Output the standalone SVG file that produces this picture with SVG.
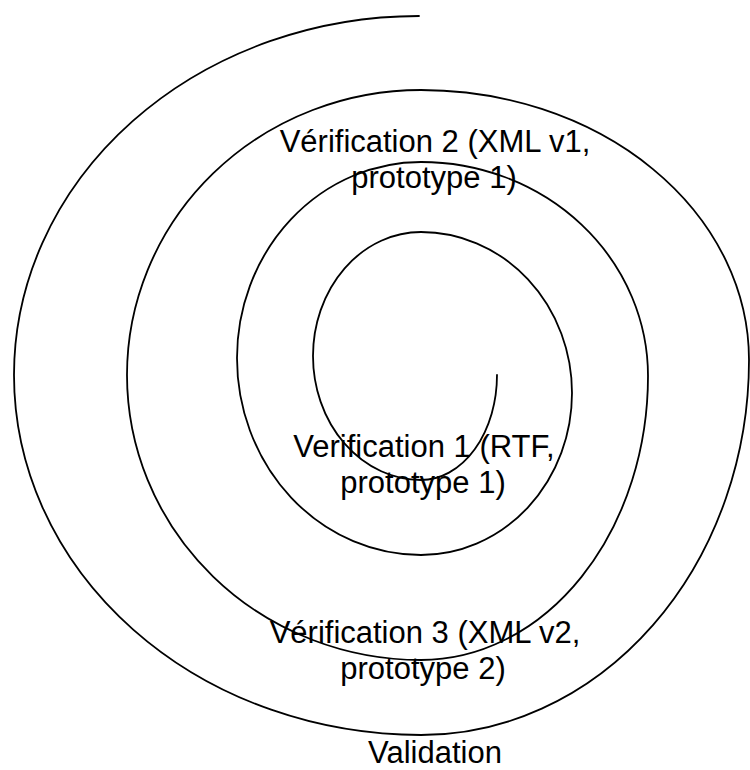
<svg xmlns="http://www.w3.org/2000/svg" width="750" height="770" viewBox="0 0 750 770">
  <style>
    .spiral { fill: none; stroke: #000; stroke-width: 1.8; stroke-linecap: round; }
    .label { font-family: "Liberation Sans", Arial, sans-serif; font-size: 31px; fill: #000; text-anchor: middle; }
  </style>
  <rect width="750" height="770" fill="#fff"/>

  <!-- Spiral: quarter-ellipse arcs, outer start at top, winding inward counter-clockwise -->
  <g id="connectors">
    <path id="spiral" class="spiral" d="
      M 419 16
      A 405 359 0 0 0 14 375
      A 407 360 0 0 0 421 735
      A 328 375 0 0 0 749 360
      A 328 270 0 0 0 421 90
      A 294 285 0 0 0 127 375
      A 294 285 0 0 0 421 660
      A 227 284 0 0 0 648 376
      A 227 214 0 0 0 421 162
      A 184 196 0 0 0 237 358
      A 184 197 0 0 0 421 555
      A 151 162 0 0 0 572 393
      A 151 161 0 0 0 421 232
      A 108 124 0 0 0 313 356
      A 108 124 0 0 0 421 480
      A 76 105 0 0 0 497 375"/>
  </g>

  <g id="verification2">
    <text class="label" x="435" y="152">Vérification 2 (XML v1,</text>
    <text class="label" x="434" y="188">prototype 1)</text>
  </g>

  <g id="verification1">
    <text class="label" x="424" y="457">Verification 1 (RTF,</text>
    <text class="label" x="423" y="493">prototype 1)</text>
  </g>

  <g id="verification3">
    <text class="label" x="425" y="643">Vérification 3 (XML v2,</text>
    <text class="label" x="423" y="679">prototype 2)</text>
  </g>

  <g id="validation">
    <text class="label" x="435" y="763">Validation</text>
  </g>
</svg>
